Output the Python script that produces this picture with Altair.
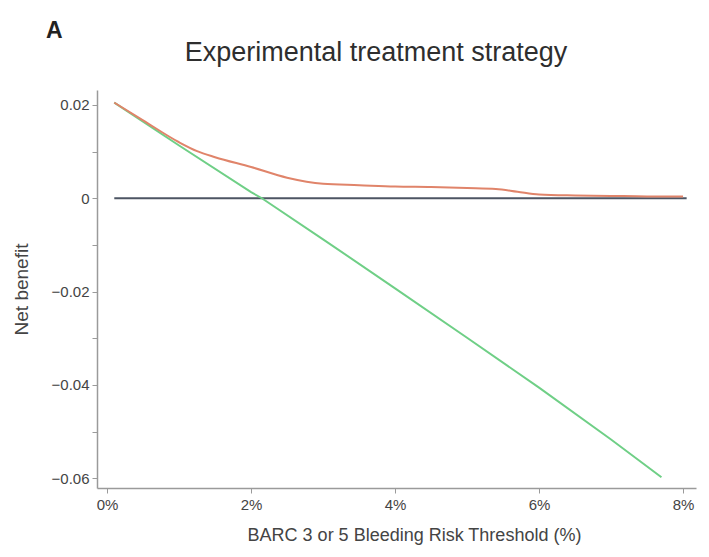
import altair as alt
import pandas as pd

# Threshold probabilities (%) and net benefit for each strategy
model_threshold = [0.1, 0.5, 1.0, 1.25, 1.5, 2.0, 2.5, 3.0, 3.5, 4.0, 4.5, 5.0, 5.4, 5.7, 6.0, 6.5, 7.0, 7.5, 8.0]
model_nb = [0.0205, 0.0167, 0.0120, 0.0101, 0.0088, 0.0067, 0.0044, 0.0031, 0.0028, 0.0025, 0.0024, 0.0022, 0.0020,
            0.0014, 0.0008, 0.0006, 0.0005, 0.0004, 0.0004]

all_threshold = [0.1, 1.0, 2.0, 2.15, 3.0, 4.0, 5.0, 6.0, 7.0, 7.7]
all_nb = [0.0205, 0.0113, 0.0013, 0.0, -0.0088, -0.0193, -0.0299, -0.0406, -0.0517, -0.0598]

none_threshold = [0.1, 8.05]
none_nb = [0.0, 0.0]

x_ticks = [0, 2, 4, 6, 8]
y_ticks = [-0.06, -0.05, -0.04, -0.03, -0.02, -0.01, 0.0, 0.01, 0.02]

panel = ["A"]
title_text = ["Experimental treatment strategy"]

model_df = pd.DataFrame({"t": model_threshold, "nb": model_nb})
all_df = pd.DataFrame({"t": all_threshold, "nb": all_nb})
none_df = pd.DataFrame({"t": none_threshold, "nb": none_nb})

FONT = "Liberation Sans"
TEXT = "#444444"
AXIS = "#9a9a9a"

x_enc = alt.X(
    "t:Q",
    scale=alt.Scale(domain=[-0.14, 8.18], nice=False, zero=False),
    axis=alt.Axis(
        values=x_ticks,
        labelExpr="datum.value + '%'",
        title="BARC 3 or 5 Bleeding Risk Threshold (%)",
        titleFontSize=18,
        titleFontWeight="normal",
        titleColor=TEXT,
        titlePadding=14,
        titleX=317,
        labelFontSize=15,
        labelColor=TEXT,
        labelPadding=4,
        tickSize=5,
        grid=False,
        domainColor=AXIS,
        tickColor=AXIS,
        domainWidth=1.5,
    ),
)

y_enc = alt.Y(
    "nb:Q",
    scale=alt.Scale(domain=[-0.0621, 0.0232], nice=False, zero=False),
    axis=alt.Axis(
        values=y_ticks,
        labelExpr="abs(round(datum.value * 100)) % 2 == 1 ? '' : (datum.value == 0 ? '0' : format(datum.value, '.2f'))",
        title="Net benefit",
        titleFontSize=19,
        titleFontWeight="normal",
        titleColor=TEXT,
        titlePadding=20,
        labelFontSize=15,
        labelColor=TEXT,
        labelPadding=3,
        tickSize=5,
        grid=False,
        domainColor=AXIS,
        tickColor=AXIS,
        domainWidth=1.5,
    ),
)

none_line = alt.Chart(none_df).mark_line(color="#4d5563", strokeWidth=2.2).encode(x=x_enc, y=y_enc)
all_line = alt.Chart(all_df).mark_line(color="#6fcf86", strokeWidth=2).encode(x="t:Q", y="nb:Q")
model_line = alt.Chart(model_df).mark_line(color="#e0846a", strokeWidth=2, interpolate="monotone").encode(
    x="t:Q", y="nb:Q"
)

panel_label = alt.Chart(pd.DataFrame({"s": panel})).mark_text(
    font=FONT, fontSize=23, fontWeight="bold", color="#222222", align="left", baseline="middle"
).encode(text="s:N", x=alt.value(-51), y=alt.value(-59))

title_mark = alt.Chart(pd.DataFrame({"s": title_text})).mark_text(
    font=FONT, fontSize=27, color="#2e2e2e", align="center", baseline="alphabetic"
).encode(text="s:N", x=alt.value(279), y=alt.value(-29))

chart = (
    alt.layer(none_line, all_line, model_line, panel_label, title_mark)
    .properties(
        width=599,
        height=398,
        autosize=alt.AutoSizeParams(type="none"),
        padding={"left": 97, "top": 90, "right": 13, "bottom": 69},
    )
    .configure(font=FONT)
    .configure_view(stroke=None)
)

chart.save("out.html", embed_options={"renderer": "svg", "actions": False})
